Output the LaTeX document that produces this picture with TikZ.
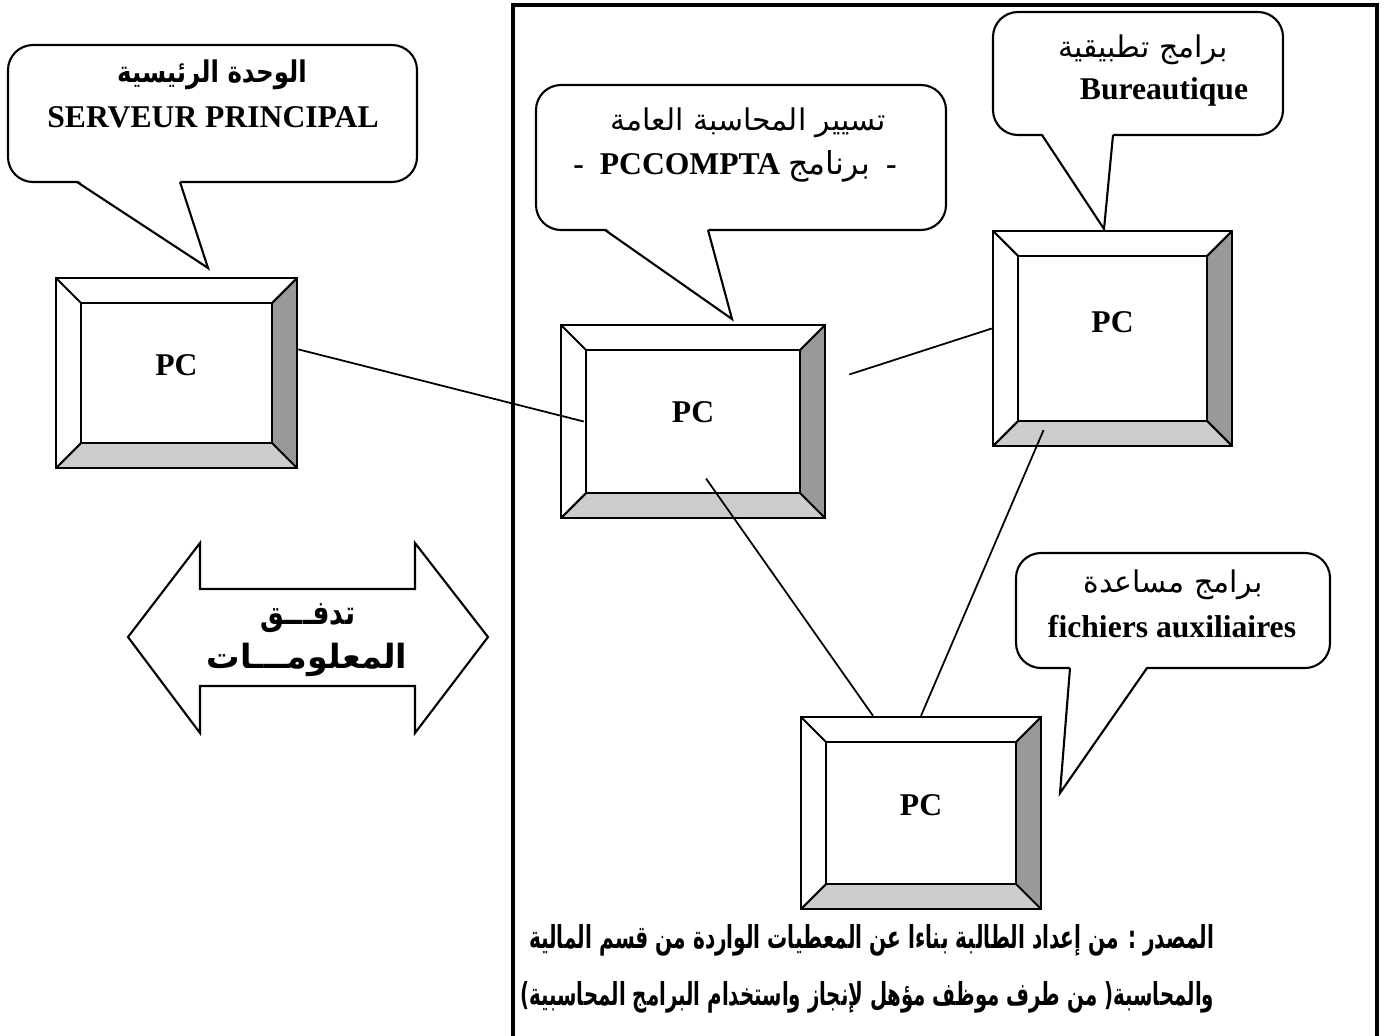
\documentclass[tikz,border=0pt]{standalone}
\usepackage{fontspec}
\setmainfont{Liberation Serif}
\newfontfamily\arabicfont[Script=Arabic]{DejaVu Sans}
\TeXXeTstate=1
\usetikzlibrary{calc, positioning}

\begin{document}
\begin{tikzpicture}[x=0.1mm, y=-0.1mm]
      \useasboundingbox (0,0) rectangle (1385,1035);
      \tikzstyle{bubble} = [draw, line width=0.6pt, fill=white, rounded corners=2.5mm]
      \tikzstyle{latin} = [inner sep=0pt, font=\bfseries\fontsize{9}{10}\selectfont]
      \tikzstyle{arab} = [inner sep=0pt, font=\arabicfont\fontsize{8.5}{10}\selectfont]
      \tikzstyle{arabbold} = [inner sep=0pt, font=\arabicfont\bfseries\fontsize{8.5}{10}\selectfont]
      \tikzstyle{source} = [inner sep=0pt, anchor=east, font=\arabicfont\bfseries\fontsize{9}{10}\selectfont]
      \tikzstyle{wire} = [line width=0.5pt]
      \tikzstyle{pcbox} = [draw, line width=0.7pt, fill=white, font=\bfseries\fontsize{9}{10}\selectfont,
        text height=0.21cm, text depth=0.17cm,
        path picture={
          \coordinate (ne) at (path picture bounding box.north east);
          \coordinate (nw) at (path picture bounding box.north west);
          \coordinate (se) at (path picture bounding box.south east);
          \coordinate (sw) at (path picture bounding box.south west);
          \fill[black!40] (ne) -- ++(-0.25cm,-0.25cm) -- ($(se)+(-0.25cm,0.25cm)$) -- (se) -- cycle;
          \fill[black!20] (sw) -- ++(0.25cm,0.25cm) -- ($(se)+(-0.25cm,0.25cm)$) -- (se) -- cycle;
          \draw[line width=0.6pt] ($(sw)+(0.25cm,0.25cm)$) rectangle ($(ne)-(0.25cm,0.25cm)$);
          \draw[line width=0.6pt] (sw) -- ++(0.25cm,0.25cm) (nw) -- ++(0.25cm,-0.25cm)
            (ne) -- ++(-0.25cm,-0.25cm) (se) -- ++(-0.25cm,0.25cm);
        }]

      % frame of the accounting department
      \draw[line width=0.9pt] (513,1045) -- (513,5) -- (1377,5) -- (1377,1045);

      % callouts
      \foreach \xa/\ya/\xb/\yb/\pa/\pb/\tx/\ty in {
        8/45/417/182/77/180/208/268,
        536/85/946/230/605/708/732/319,
        993/12/1283/135/1042/1113/1104/229,
        1016/553/1330/668/1070/1147/1060/793
      } {
        \draw[bubble] (\xa,\ya) rectangle (\xb,\yb);
        \fill[white] (\pa,\yb-2) -- (\tx,\ty) -- (\pb,\yb-2) -- cycle;
        \draw[line width=0.6pt] (\pa,\yb) -- (\tx,\ty) -- (\pb,\yb);
      }

      \node[arabbold] (srvar) at (212,75) {\scalebox{0.82}[1]{\beginR الوحدة الرئيسية\endR}};
      \node[latin] (srvfr) at (213,117) {SERVEUR PRINCIPAL};
      \node[arab] (cptar) at (748,123) {\beginR تسيير المحاسبة العامة\endR};
      \node[latin] (cptfr) at (735,166) {-\ \ PCCOMPTA {\arabicfont\mdseries\beginR برنامج\endR}\ \ -};
      \node[arab] (burar) at (1143,50) {\beginR برامج تطبيقية\endR};
      \node[latin] (burfr) at (1164,92) {Bureautique};
      \node[arab] (auxar) at (1173,585) {\beginR برامج مساعدة\endR};
      \node[latin] (auxfr) at (1172,627) {fichiers auxiliaires};

      % computers
      \node[pcbox, minimum width=24.1mm, minimum height=19mm] (pc1) at (176.5,373) {PC};
      \node[pcbox, minimum width=26.4mm, minimum height=19.3mm, text depth=0.19cm] (pc2) at (693,421.5) {PC};
      \node[pcbox, minimum width=23.9mm, minimum height=21.5mm, text depth=0.34cm] (pc3) at (1112.5,338.5) {PC};
      \node[pcbox, minimum width=24mm, minimum height=19.2mm] (pc4) at (921,813) {PC};

      \draw[wire] (pc1.11) -- ($(pc2.west)+(24,0)$);
      \draw[wire] ($(pc2.east)+(23,-47)$) -- ($(pc3.west)+(0,-10)$);
      \draw[wire] ($(pc2.center)+(13,57)$) -- ($(pc4.north)+(-48,0)$);
      \draw[wire] ($(pc3.south)+(-69,-17)$) -- (pc4.north);

      % information flow
      \draw[line width=0.6pt] (128,637) -- (200,543) -- (200,589) -- (415,589) -- (415,543) -- (488,637)
        -- (415,733) -- (415,686) -- (200,686) -- (200,733) -- cycle;
      \node[arabbold, font=\arabicfont\bfseries\fontsize{9.5}{10}\selectfont] (flow1) at (308,618) {\scalebox{0.8}[1]{\beginR تدفـــق\endR}};
      \node[arabbold, font=\arabicfont\bfseries\fontsize{9.5}{10}\selectfont] (flow2) at (307,660) {\beginR المعلومـــات\endR};

      % source
      \node[source] (src1) at (1215,940)
        {\scalebox{0.635}[1]{\beginR المصدر  : من إعداد الطالبة بناءا عن المعطيات الواردة من قسم المالية\endR}};
      \node[source] (src2) at (1215,997)
        {\scalebox{0.625}[1]{\beginR والمحاسبة( من طرف موظف مؤهل لإنجاز واستخدام البرامج المحاسبية)\endR}};
    \end{tikzpicture}
\end{document}
